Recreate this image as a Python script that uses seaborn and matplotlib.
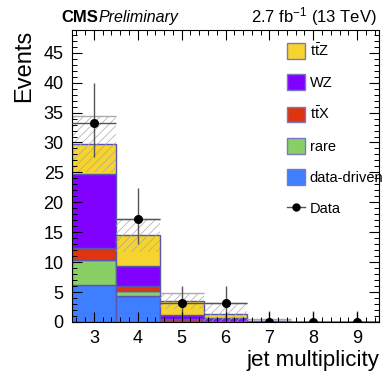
import numpy as np
import pandas as pd
import matplotlib
matplotlib.use("Agg")
import matplotlib.pyplot as plt
from matplotlib.ticker import MultipleLocator
from matplotlib.patches import Patch
from matplotlib.lines import Line2D
import seaborn as sns

# ---- data ----
jets = [3, 4, 5, 6, 7, 8, 9]
data_driven = [6.2, 4.35, 0.1, 0.05, 0.02, 0.0, 0.0]
rare = [4.2, 0.85, 0.05, 0.05, 0.02, 0.0, 0.0]
ttX = [2.0, 0.9, 0.35, 0.1, 0.03, 0.0, 0.0]
WZ = [12.3, 3.3, 0.7, 0.4, 0.05, 0.0, 0.0]
ttZ = [5.0, 5.1, 2.3, 0.8, 0.05, 0.0, 0.0]
band_low = [25.0, 11.7, 2.2, 0.0, 0.0, 0.0, 0.0]
band_high = [34.4, 17.2, 4.8, 3.1, 0.5, 0.0, 0.0]
data_obs = [33.2, 17.2, 3.1, 3.1, 0.0, 0.0, 0.0]
data_err_up = [6.8, 5.2, 2.9, 2.9, 1.8, 1.8, 1.8]
data_err_dn = [5.7, 4.2, 3.1, 3.1, 0.0, 0.0, 0.0]

proc_names = ["ttZ", "WZ", "ttX", "rare", "data-driven"]
proc_labels = [r"$\mathrm{t\bar{t}Z}$", "WZ", r"$\mathrm{t\bar{t}X}$", "rare", "data-driven"]
proc_values = [ttZ, WZ, ttX, rare, data_driven]
proc_colors = ["#F6D32D", "#7F00FF", "#DE3510", "#88D066", "#3F7FFF"]

plt.rcParams["font.family"] = ["Liberation Sans", "DejaVu Sans"]
plt.rcParams["mathtext.fontset"] = "custom"
plt.rcParams["mathtext.rm"] = "Liberation Sans"
plt.rcParams["mathtext.it"] = "Liberation Sans:italic"
plt.rcParams["mathtext.bf"] = "Liberation Sans:bold"
plt.rcParams["hatch.linewidth"] = 0.5
plt.rcParams["hatch.color"] = "#a8a8a8"

rows = []
for name, vals in zip(proc_names, proc_values):
    for j, v in zip(jets, vals):
        rows.append({"nj": j, "events": v, "process": name})
df = pd.DataFrame(rows)

fig = plt.figure(figsize=(3.85, 3.77), dpi=100)
ax = fig.add_axes([72 / 385, 1 - 322 / 377, (379 - 72) / 385, (322 - 30) / 377])

def style_ticks(ax):
    ax.xaxis.set_major_locator(MultipleLocator(1))
    ax.xaxis.set_minor_locator(MultipleLocator(0.2))
    ax.yaxis.set_major_locator(MultipleLocator(5))
    ax.yaxis.set_minor_locator(MultipleLocator(1))
    ax.tick_params(which="both", direction="in", top=True, right=True,
                   bottom=True, left=True)
    ax.tick_params(which="both", color="black", labelsize=13)
    ax.tick_params(which="major", length=7, width=0.8, pad=6)
    ax.tick_params(which="minor", length=3.5, width=0.7)

ax.set_xlim(2.5, 9.5)
ax.set_ylim(0, 48.8)
style_ticks(ax)

# stack: last hue level goes at the bottom -> data-driven at bottom, ttZ on top
sns.histplot(data=df, x="nj", weights="events", hue="process",
             hue_order=proc_names, multiple="stack", discrete=True,
             palette=dict(zip(proc_names, proc_colors)), alpha=1.0,
             edgecolor="#5a55b0", linewidth=1.0, legend=False, ax=ax)

# uncertainty band
lo = np.array(band_low)
hi = np.array(band_high)
jx = np.array(jets)
ax.bar(jets, hi - lo, bottom=lo, width=1.0, facecolor="none",
       edgecolor="#a8a8a8", hatch="////", linewidth=0.0)
ax.hlines(hi[hi > 0], jx[hi > 0] - 0.5, jx[hi > 0] + 0.5,
          color="#aaaaaa", lw=1.0)

# data
ax.errorbar(jets, data_obs, yerr=[data_err_dn, data_err_up], xerr=0.5,
            fmt="o", color="black", ecolor="#555555", elinewidth=1.0,
            markersize=5.5, capsize=0, zorder=5)

ax.set_xlim(2.5, 9.5)
ax.set_ylim(0, 48.8)
for s in ax.spines.values():
    s.set_linewidth(0.8)
    s.set_color("black")

ax.set_xlabel("jet multiplicity", fontsize=16, loc="right", labelpad=2)
ax.set_ylabel("Events", fontsize=17, loc="top", labelpad=6)

fig.text(61 / 385, 1 - 22 / 377, "CMS", fontsize=12, fontweight="bold",
         ha="left", va="baseline")
fig.text(99 / 385, 1 - 22 / 377, "Preliminary", fontsize=11.5, style="italic",
         ha="left", va="baseline")
fig.text(377 / 385, 1 - 22 / 377, r"2.7 fb$^{-1}$ (13 TeV)", fontsize=12,
         ha="right", va="baseline")

handles = [Patch(facecolor=c, edgecolor="#7a78c0", linewidth=1.0)
           for c in proc_colors]
handles.append(Line2D([0], [0], color="#555555", marker="o", markersize=5,
                      markerfacecolor="black", markeredgecolor="black", lw=1.0))
leg = ax.legend(handles, proc_labels + ["Data"], loc="upper left",
                bbox_to_anchor=(0.70, 0.958), frameon=False, fontsize=10.5,
                handlelength=1.25, handleheight=1.3, labelspacing=1.05,
                handletextpad=0.3, borderpad=0, borderaxespad=0)

# make sure tick marks are drawn on top of everything
style_ticks(ax)
ax.xaxis.set_zorder(10)
ax.yaxis.set_zorder(10)

fig.savefig("out.png", dpi=100)
